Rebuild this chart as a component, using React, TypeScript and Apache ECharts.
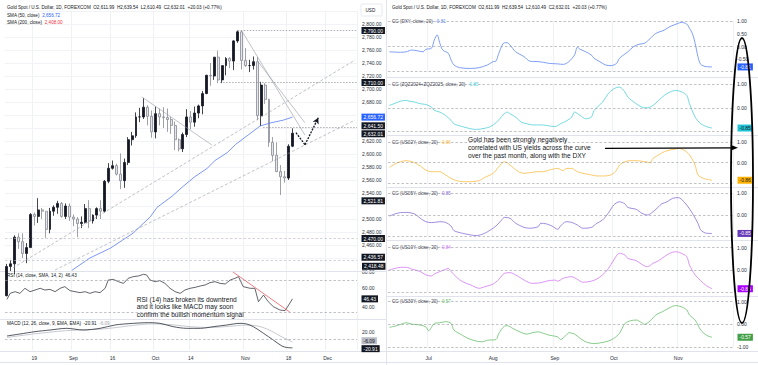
import React, { useEffect, useRef } from 'react';
import * as echarts from 'echarts';

const FONT = '"Liberation Sans", Arial, sans-serif';
const TXT = '#131722';

// ---------- Left chart: XAUUSD daily candles (Aug 8 – Nov 19, 2024) ----------
const OPEN = [
  2382, 2427, 2431, 2472, 2465, 2447, 2456, 2507, 2504, 2514,
  2512, 2484, 2512, 2518, 2524, 2504, 2520, 2503, 2500, 2493,
  2495, 2516, 2497, 2506, 2516, 2512, 2558, 2578, 2582, 2569,
  2559, 2587, 2622, 2628, 2657, 2657, 2672, 2658, 2634, 2662,
  2657, 2656, 2653, 2644, 2622, 2608, 2630, 2657, 2649, 2663,
  2674, 2693, 2721, 2720, 2749, 2714, 2736, 2747, 2743, 2774,
  2788, 2744, 2736, 2736, 2742, 2659, 2706, 2684, 2618, 2598,
  2573, 2565, 2563, 2611.99,
];
const HIGH = [
  2431, 2437, 2475, 2478, 2478, 2463, 2509, 2510, 2532, 2517,
  2512, 2517, 2521, 2528, 2526, 2524, 2524, 2507, 2503, 2504,
  2523, 2529, 2507, 2518, 2529, 2560, 2586, 2590, 2585, 2601,
  2593, 2626, 2634, 2664, 2671, 2686, 2675, 2667, 2673, 2670,
  2672, 2670, 2657, 2650, 2624, 2633, 2669, 2666, 2673, 2676,
  2697, 2722, 2740, 2749, 2759, 2736, 2749, 2749, 2775, 2790,
  2790, 2763, 2745, 2750, 2749, 2711, 2709, 2685, 2626, 2618,
  2583, 2574, 2615, 2639.54,
];
const LOW = [
  2381, 2420, 2415, 2454, 2440, 2432, 2456, 2490, 2494, 2500,
  2471, 2478, 2505, 2508, 2502, 2500, 2497, 2489, 2472, 2486,
  2493, 2486, 2493, 2500, 2500, 2510, 2555, 2576, 2567, 2546,
  2548, 2583, 2613, 2625, 2649, 2654, 2644, 2625, 2624, 2644,
  2640, 2634, 2631, 2606, 2604, 2603, 2626, 2638, 2642, 2655,
  2661, 2692, 2705, 2714, 2709, 2709, 2721, 2732, 2729, 2771,
  2730, 2734, 2726, 2730, 2652, 2643, 2677, 2611, 2589, 2572,
  2537, 2556, 2560, 2610.49,
];
const CLOSE = [
  2427, 2431, 2472, 2465, 2447, 2456, 2507, 2504, 2514, 2512,
  2484, 2512, 2518, 2524, 2504, 2520, 2503, 2500, 2493, 2495,
  2516, 2497, 2506, 2516, 2512, 2558, 2578, 2582, 2569, 2559,
  2587, 2622, 2628, 2657, 2657, 2672, 2658, 2634, 2662, 2657,
  2656, 2653, 2644, 2622, 2608, 2630, 2657, 2649, 2663, 2674,
  2693, 2721, 2720, 2749, 2714, 2736, 2747, 2743, 2774, 2788,
  2744, 2736, 2736, 2742, 2659, 2706, 2684, 2618, 2598, 2573,
  2565, 2563, 2612, 2632.01,
];

// SMA(50): [bar index, price]
const SMA50 = [
  [16.6, 2421], [21.2, 2440], [26.4, 2455], [32.2, 2478], [36.6, 2503], [38.4, 2518],
  [42.2, 2535], [45, 2550], [48, 2565], [51.2, 2578], [53.2, 2590], [56.3, 2602],
  [58.5, 2615], [61.4, 2628], [64.7, 2643], [67.5, 2648], [70.6, 2652], [73, 2656.72],
];

// Trend lines [x1, price1, x2, price2]
const TREND_DASHED = [
  [1.5, 2424.6, 89, 2744.6],
  [12.3, 2421.5, 89, 2652.3],
];
const TREND_SOLID = [
  [34.5, 2687.7, 52.4, 2613.8],
  [60.4, 2786, 76.2, 2629],
  [64.2, 2742, 76.2, 2648],
];
// Horizontal rays [start bar, price]
const RAYS_DARK = [[59, 2790], [54.5, 2710], [65.5, 2641.5]];
const RAYS_LIGHT = [[-0.5, 2470], [-0.5, 2436.57]];
const SMA_TAG = 2656.72;
const LAST_PRICE = 2632.01;
const OTHER_TAG = 2521.81;
const LOW_TAG = 2418.48;
// Projection zigzag [bar, price]
const PROJECTION = [[73.9, 2632.8], [76.2, 2614.3], [79.6, 2655.8]];

// RSI(14)
const RSI = [
  [0, 45.8], [0.8, 53.3], [2.1, 55.4], [3.3, 53.3], [4.6, 59.6], [5.9, 55.4], [7.2, 57.5],
  [8.5, 59.6], [9.7, 57.5], [11, 58.3], [12.3, 55.4], [13.6, 59.6], [14.8, 61.7], [16.1, 56.7],
  [17.4, 55.4], [18.7, 54.2], [20, 55.4], [21.2, 53.3], [22.5, 55.4], [23.8, 54.2], [25.1, 59.6],
  [25.9, 70], [27.2, 70.8], [28.5, 67.9], [29.8, 65.8], [31, 72.1], [32.3, 74.2], [33.6, 75],
  [34.9, 77.1], [35.7, 76.3], [36.6, 70], [37.9, 67.9], [39.1, 69.2], [40.4, 65.8], [41.7, 59.6],
  [43, 55.4], [44.3, 53.3], [45.5, 57.5], [46.8, 59.6], [48.1, 60.8], [49.4, 62.5], [50.7, 63.8],
  [51.9, 66.7], [53.2, 67.9], [54.5, 65.8], [55.8, 65], [57.1, 70], [58.3, 72.1], [59.2, 74.2],
  [60.4, 61.7], [62.2, 59.6], [63.4, 59.6], [64.3, 42.9], [65.6, 51.2], [66.8, 42.9], [68.1, 36.7],
  [69.8, 32.5], [71.1, 31.7], [72.2, 40], [73, 46.43],
];
const RSI_TREND = [57.8, 80, 72.3, 30];
const RSI_LAST = 46.43;

// MACD(12,26,9)
const MACD = [
  [0, 8.75], [3.3, 13.75], [7.2, 19.6], [11, 23.75], [15.3, 27.9], [19.5, 23.75], [23.8, 27.9],
  [27.6, 36.25], [32.3, 40.4], [36.2, 42.1], [39.1, 40.4], [42.5, 32.1], [46, 27.9], [49.4, 27.9],
  [52.8, 32.1], [56.2, 36.25], [59.6, 40.4], [61.3, 38.75], [63, 32.1], [65.6, 15.4], [68.1, -1.25],
  [70.3, -16.25], [71.5, -20], [73, -20.91],
];
const SIGNAL = [
  [0, 5], [7, 14], [15, 22], [24, 26], [28, 30], [32, 35], [37, 39], [42, 37], [47, 32],
  [52, 30], [57, 33], [61, 36], [64, 34], [67, 24], [70, 8], [73, -6.09],
];
const MACD_LAST = -20.91;
const SIGNAL_LAST = -6.09;

const LEFT_TICKS: Record<string, string> = {
  '2024-08-19': '19', '2024-09-02': 'Sep', '2024-09-16': '16', '2024-10-01': 'Oct',
  '2024-10-14': '14', '2024-11-01': 'Nov', '2024-11-18': '18', '2024-12-02': 'Dec',
};
const RIGHT_TICKS: Record<string, string> = {
  '2024-07-01': 'Jul', '2024-08-01': 'Aug', '2024-09-02': 'Sep', '2024-10-01': 'Oct', '2024-11-01': 'Nov',
};

// ---------- Right chart: 20-day correlation of gold with ... [bar index, value] ----------
const CC_DXY = [
  [0, -0.21], [4, -0.23], [6, -0.21], [8, -0.14], [10, -0.17], [12, -0.21], [13, -0.11], [15, -0.07],
  [16, 0.26], [17, 0.46], [18, 0.13], [19, -0.14], [21, -0.27], [22, -0.54], [23, -0.73], [25, -0.84],
  [29, -0.87], [32, -0.84], [35, -0.73], [37, -0.6], [38, -0.58], [39, -0.27], [41, 0.15], [42, 0.15],
  [43, 0.06], [45, -0.21], [48, -0.4], [50, -0.58], [53, -0.6], [55, -0.63], [57, -0.67], [60, -0.69],
  [62, -0.71], [64, -0.6], [66, -0.34], [67, -0.03], [68, -0.11], [70, -0.21], [72, -0.34], [73, -0.47],
  [75, -0.6], [77, -0.73], [79, -0.76], [81, -0.67], [82, -0.47], [85, -0.21], [87, -0.01], [89, 0.09],
  [91, 0.13], [93, 0.32], [95, 0.52], [98, 0.65], [100, 0.79], [103, 0.92], [104, 0.96], [106, 0.89],
  [107, 0.72], [108, 0.52], [109, 0.13], [110, -0.4], [111, -0.71], [113, -0.8], [115, -0.81],
];
const CC_ZQ = [
  [0, 0.1], [2, 0.19], [4, 0.28], [6, 0.31], [7, 0.28], [9, 0.24], [11, 0.17], [13, 0.14], [15, 0.03],
  [16, -0.11], [18, -0.18], [20, -0.32], [22, -0.53], [23, -0.67], [26, -0.79], [29, -0.88], [31, -0.91],
  [34, -0.86], [36, -0.79], [38, -0.63], [40, -0.37], [41, -0.25], [42, -0.18], [43, -0.25], [45, -0.39],
  [47, -0.6], [49, -0.67], [51, -0.72], [54, -0.72], [56, -0.74], [59, -0.79], [61, -0.67], [63, -0.56],
  [65, -0.39], [66, -0.18], [68, -0.32], [70, -0.46], [72, -0.39], [73, -0.11], [76, 0.24], [78, 0.59],
  [80, 0.8], [82, 0.87], [84, 0.66], [85, 0.45], [88, 0.17], [90, 0.03], [92, 0.0], [94, 0.1], [96, 0.31],
  [98, 0.52], [100, 0.66], [102, 0.73], [104, 0.68], [106, 0.52], [107, 0.17], [109, -0.39], [111, -0.67],
  [113, -0.79], [115, -0.85],
];
const CC_US02Y = [
  [0, -0.23], [2, -0.06], [4, 0.05], [6, 0.1], [7, 0.08], [9, 0.0], [11, -0.16], [13, -0.36], [15, -0.44],
  [16, -0.44], [18, -0.44], [20, -0.6], [22, -0.77], [24, -0.88], [26, -0.93], [29, -0.93], [32, -0.88],
  [34, -0.72], [37, -0.52], [39, -0.2], [41, 0.05], [42, 0.0], [44, -0.23], [46, -0.44], [48, -0.52],
  [50, -0.49], [53, -0.44], [55, -0.44], [57, -0.36], [60, -0.28], [62, -0.39], [63, -0.28], [65, -0.28],
  [67, -0.44], [69, -0.52], [72, -0.6], [74, -0.65], [76, -0.65], [79, -0.6], [81, -0.36], [82, -0.12],
  [84, 0.05], [86, 0.1], [88, 0.1], [91, 0.05], [93, 0.0], [94, 0.21], [96, 0.38], [98, 0.54], [100, 0.62],
  [102, 0.67], [103, 0.7], [105, 0.62], [107, 0.38], [109, -0.12], [110, -0.6], [112, -0.77], [115, -0.86],
];
const CC_US05Y = [
  [0, -0.05], [2, 0.05], [4, 0.11], [6, 0.12], [7, 0.11], [9, 0.05], [11, -0.15], [13, -0.31], [15, -0.35],
  [16, -0.34], [18, -0.31], [20, -0.34], [22, -0.51], [23, -0.72], [26, -0.84], [29, -0.92], [31, -0.95],
  [34, -0.84], [36, -0.69], [38, -0.51], [40, -0.23], [41, -0.11], [43, -0.15], [45, -0.38], [48, -0.57],
  [50, -0.61], [53, -0.54], [54, -0.38], [56, -0.41], [58, -0.51], [60, -0.66], [61, -0.51], [63, -0.31],
  [65, -0.34], [67, -0.46], [69, -0.61], [72, -0.57], [74, -0.38], [76, -0.23], [78, 0.08], [80, 0.46],
  [82, 0.61], [84, 0.51], [85, 0.35], [88, 0.26], [90, 0.08], [92, 0.0], [94, 0.15], [96, 0.38], [97, 0.51],
  [99, 0.61], [101, 0.77], [103, 0.8], [104, 0.74], [106, 0.46], [108, 0.08], [110, -0.38], [111, -0.69],
  [113, -0.84], [115, -0.85],
];
const CC_US10Y = [
  [0, 0.0], [2, 0.07], [4, 0.12], [6, 0.12], [8, 0.04], [11, -0.07], [13, -0.22], [15, -0.27], [16, -0.18],
  [18, -0.07], [20, 0.03], [21, 0.07], [22, -0.07], [24, -0.33], [26, -0.52], [29, -0.67], [32, -0.82],
  [34, -0.75], [37, -0.63], [39, -0.42], [41, -0.15], [43, -0.12], [45, -0.22], [47, -0.37], [49, -0.52],
  [51, -0.6], [54, -0.57], [56, -0.5], [59, -0.45], [60, -0.5], [62, -0.37], [65, -0.3], [67, -0.42],
  [69, -0.55], [72, -0.5], [74, -0.4], [76, -0.22], [78, 0.05], [80, 0.45], [82, 0.75], [84, 0.67],
  [85, 0.52], [88, 0.42], [90, 0.25], [92, 0.15], [94, 0.3], [96, 0.42], [98, 0.6], [100, 0.75], [102, 0.82],
  [104, 0.75], [106, 0.6], [107, 0.22], [109, -0.22], [111, -0.48], [113, -0.7], [115, -0.84],
];
const CC_US30Y = [
  [0, -0.13], [2, -0.08], [4, 0.0], [6, 0.07], [8, 0.01], [11, -0.03], [13, -0.11], [14, -0.28], [16, 0.04],
  [18, 0.07], [20, 0.12], [22, 0.04], [23, -0.25], [26, -0.48], [28, -0.62], [31, -0.74], [33, -0.77],
  [35, -0.7], [38, -0.67], [39, -0.4], [41, -0.08], [42, -0.06], [44, -0.18], [47, -0.36], [49, -0.43],
  [51, -0.37], [53, -0.33], [55, -0.4], [57, -0.48], [60, -0.55], [61, -0.67], [63, -0.48], [64, -0.37],
  [66, -0.43], [68, -0.62], [70, -0.77], [73, -0.85], [75, -0.82], [78, -0.74], [80, -0.62], [82, -0.4],
  [84, 0.04], [86, 0.16], [88, 0.19], [90, 0.07], [91, 0.0], [93, 0.16], [95, 0.41], [98, 0.6], [100, 0.74],
  [102, 0.83], [104, 0.78], [106, 0.64], [107, 0.41], [109, 0.19], [111, -0.25], [113, -0.48], [115, -0.57],
];

const CC_TITLES = [
  'CC (DXY, close, 20)', 'CC (ZQZ2024+ZQZ2025, close, 20)', 'CC (US02Y, close, 20)',
  'CC (US05Y, close, 20)', 'CC (US10Y, close, 20)', 'CC (US30Y, close, 20)',
];
const CC_LAST = [-0.81, -0.85, -0.86, -0.85, -0.84, -0.57];
const CC_DATA = [CC_DXY, CC_ZQ, CC_US02Y, CC_US05Y, CC_US10Y, CC_US30Y];

// styles
const CC_LINE = ['#5d86f2', '#52d0d8', '#f9bd45', '#8a70d8', '#d27af5', '#69bf6d'];
const CC_TAG_BG = ['#2962ff', '#22c3d6', '#ffb300', '#673ab7', '#aa00ff', '#43a047'];
const CC_TAG_FG = ['#ffffff', '#131722', '#131722', '#ffffff', '#ffffff', '#ffffff'];
const PANEL_TOP = [21.3, 84, 142.3, 193.3, 247.7, 301.7];
const PANEL_H = [50.4, 47.6, 40.8, 43.4, 44.6, 45.3];

function weekdays(start: string, n: number): string[] {
  const out: string[] = [];
  const d = new Date(start + 'T00:00:00Z');
  while (out.length < n) {
    const wd = d.getUTCDay();
    if (wd !== 0 && wd !== 6) out.push(d.toISOString().slice(0, 10));
    d.setUTCDate(d.getUTCDate() + 1);
  }
  return out;
}

const fmt = (v: number) =>
  v.toLocaleString('en-US', { minimumFractionDigits: 2, maximumFractionDigits: 2 });

const tagLabel = (text: string, bg: string, fg = '#ffffff', dy = 0) => ({
  show: true,
  position: 'end',
  formatter: text,
  backgroundColor: bg,
  color: fg,
  fontSize: 5,
  lineHeight: 5,
  fontFamily: FONT,
  padding: [1.2, 2, 0.8, 2],
  distance: 4.5,
  offset: [0, dy],
});

const INVISIBLE = { color: 'rgba(0,0,0,0)', width: 0.1, type: 'solid' };

function buildOption() {
  const leftDates = weekdays('2024-08-08', 90);
  const rightDates = weekdays('2024-06-11', 123);
  const candles = OPEN.map((o, i) => [o, CLOSE[i], LOW[i], HIGH[i]]);

  const labelStyle = { fontSize: 5, color: '#2a2e39', fontFamily: FONT };
  const vGrid = (ticks: Record<string, string>) => ({
    show: true,
    interval: (_i: number, v: string) => ticks[v] != null,
    lineStyle: { color: '#f0f1f5', width: 1 },
  });

  const grids: any[] = [
    { left: 5, top: 11, width: 352, height: 260 },
    { left: 5, top: 272, width: 352, height: 48 },
    { left: 5, top: 320, width: 352, height: 30 },
  ];
  PANEL_TOP.forEach((t, i) => grids.push({ left: 388, top: t, width: 345, height: PANEL_H[i] }));

  const xAxes: any[] = [];
  for (let g = 0; g < 3; g++) {
    xAxes.push({
      type: 'category', gridIndex: g, data: leftDates, boundaryGap: true,
      axisLine: { show: false }, axisTick: { show: false },
      axisLabel: g === 2
        ? { show: true, ...labelStyle, margin: 5.5, interval: (_i: number, v: string) => LEFT_TICKS[v] != null, formatter: (v: string) => LEFT_TICKS[v] || '' }
        : { show: false },
      splitLine: vGrid(LEFT_TICKS),
    });
    xAxes.push({ type: 'value', gridIndex: g, min: -0.5, max: 89.5, show: false });
  }
  for (let p = 0; p < 6; p++) {
    xAxes.push({
      type: 'category', gridIndex: 3 + p, data: rightDates, boundaryGap: true,
      axisLine: { show: false }, axisTick: { show: false },
      axisLabel: p === 5
        ? { show: true, ...labelStyle, margin: 8.5, interval: (_i: number, v: string) => RIGHT_TICKS[v] != null, formatter: (v: string) => RIGHT_TICKS[v] || '' }
        : { show: false },
      splitLine: vGrid(RIGHT_TICKS),
    });
  }

  // price labels hidden where the reference's value tags cover them
  const HIDDEN_PRICE = [2420, 2440, 2520, 2640, 2660, 2820];
  const yAxes: any[] = [
    {
      type: 'value', gridIndex: 0, position: 'right', min: 2420, max: 2820, interval: 20,
      axisLine: { show: false }, axisTick: { show: false },
      axisLabel: { ...labelStyle, margin: 5, formatter: (v: number) => (HIDDEN_PRICE.includes(v) ? '' : fmt(v)) },
      splitLine: { show: true, lineStyle: { color: '#f2f3f6', width: 1 } },
    },
    {
      type: 'value', gridIndex: 1, position: 'right', min: 20, max: 80, interval: 20,
      axisLine: { show: false }, axisTick: { show: false },
      axisLabel: {
        ...labelStyle, margin: 5,
        formatter: (v: number) => (v === 20 ? '' : v === 40 ? '{d|40.00}' : fmt(v)),
        rich: { d: { ...labelStyle, padding: [5, 0, 0, 0] } },
      },
      splitLine: { show: false },
    },
    {
      type: 'value', gridIndex: 2, position: 'right', min: -26.25, max: 48.75,
      axisLine: { show: false }, axisTick: { show: false },
      axisLabel: { show: false }, splitLine: { show: false },
    },
  ];
  for (let p = 0; p < 6; p++) {
    yAxes.push({
      type: 'value', gridIndex: 3 + p, position: 'right', min: -1, max: 1, interval: p === 0 ? 0.5 : 1,
      axisLine: { show: false }, axisTick: { show: false },
      axisLabel: {
        ...labelStyle, margin: 4,
        formatter: (v: number) => (v === -1 && CC_LAST[p] < -0.7 ? '' : v.toFixed(2)),
      },
      splitLine: { show: false },
    });
  }

  const greyDash = { color: '#9598a1', width: 0.6, type: [2.5, 2] };
  const trendDash = { color: '#9598a1', width: 0.6, type: [3, 2] };
  const trendSolid = { color: '#9598a1', width: 0.6, type: 'solid' };
  const rayDark = { color: '#787b86', width: 0.6, type: [1.5, 1.5] };
  const rayLight = { color: '#b2b5be', width: 0.6, type: [2.5, 2] };
  const arrowStyle = { color: '#131722', width: 1.3, type: [2, 1.2] };

  const rayShift: Record<number, number> = { 2641.5: -1.2, 2436.57: -3 };
  const mainMarks: any[] = [];
  TREND_DASHED.forEach(([a, b, c, d]) => mainMarks.push([{ coord: [a, b], lineStyle: trendDash }, { coord: [c, d] }]));
  TREND_SOLID.forEach(([a, b, c, d]) => mainMarks.push([{ coord: [a, b], lineStyle: trendSolid }, { coord: [c, d] }]));
  RAYS_DARK.forEach(([x, p]) =>
    mainMarks.push([{ coord: [x, p], lineStyle: rayDark, label: tagLabel(fmt(p), TXT, '#fff', rayShift[p] || 0) }, { coord: [89.5, p] }]));
  RAYS_LIGHT.forEach(([x, p]) =>
    mainMarks.push([{ coord: [x, p], lineStyle: rayLight, label: tagLabel(fmt(p), TXT, '#fff', rayShift[p] || 0) }, { coord: [89.5, p] }]));
  mainMarks.push({ yAxis: SMA_TAG, lineStyle: INVISIBLE, label: tagLabel(fmt(SMA_TAG), '#2962ff') });
  mainMarks.push({ yAxis: LAST_PRICE, lineStyle: INVISIBLE, label: tagLabel(fmt(LAST_PRICE), TXT, '#fff', 0.6) });
  mainMarks.push({ yAxis: OTHER_TAG, lineStyle: INVISIBLE, label: tagLabel(fmt(OTHER_TAG), TXT, '#fff', -4) });
  mainMarks.push([{ coord: PROJECTION[0], lineStyle: arrowStyle }, { coord: PROJECTION[1] }]);
  mainMarks.push([
    { coord: PROJECTION[1], lineStyle: arrowStyle, symbol: 'none' },
    { coord: PROJECTION[2], symbol: 'arrow', symbolSize: [5, 6] },
  ]);

  const series: any[] = [
    {
      type: 'candlestick', xAxisIndex: 0, yAxisIndex: 0, data: candles, barWidth: '62%', clip: true,
      itemStyle: { color: '#131722', color0: '#e4e6eb', borderColor: '#131722', borderColor0: '#868993', borderWidth: 0.8 },
      silent: true,
    },
    {
      type: 'line', xAxisIndex: 1, yAxisIndex: 0, data: SMA50, symbol: 'none', silent: true,
      lineStyle: { color: '#5b7cf7', width: 0.8 }, z: 3,
      markLine: { silent: true, symbol: ['none', 'none'], animation: false, label: { show: false }, data: mainMarks },
    },
    {
      type: 'line', xAxisIndex: 3, yAxisIndex: 1, data: RSI, symbol: 'none', silent: true,
      lineStyle: { color: '#3b3e47', width: 0.8 },
      markLine: {
        silent: true, symbol: ['none', 'none'], animation: false, label: { show: false },
        data: [
          { yAxis: 70, lineStyle: greyDash },
          { yAxis: 30, lineStyle: greyDash },
          [{ coord: [RSI_TREND[0], RSI_TREND[1]], lineStyle: { color: '#f05a63', width: 0.8, type: 'solid' } },
            { coord: [RSI_TREND[2], RSI_TREND[3]] }],
          { yAxis: RSI_LAST, lineStyle: INVISIBLE, label: tagLabel(fmt(RSI_LAST), TXT) },
        ],
      },
    },
    {
      type: 'line', xAxisIndex: 5, yAxisIndex: 2, data: SIGNAL, symbol: 'none', silent: true, smooth: 0.3,
      lineStyle: { color: '#b8bbc4', width: 0.8 },
      markLine: {
        silent: true, symbol: ['none', 'none'], animation: false, label: { show: false },
        data: [
          { yAxis: 0, lineStyle: greyDash },
          { yAxis: 20, lineStyle: INVISIBLE, label: { show: true, position: 'end', formatter: '20.00', ...labelStyle, distance: 5 } },
          { yAxis: SIGNAL_LAST, lineStyle: INVISIBLE, label: tagLabel(fmt(SIGNAL_LAST), '#b8bbc4', TXT, -1.2) },
        ],
      },
    },
    {
      type: 'line', xAxisIndex: 5, yAxisIndex: 2, data: MACD, symbol: 'none', silent: true, smooth: 0.3,
      lineStyle: { color: '#2a2e39', width: 0.8 },
      markLine: {
        silent: true, symbol: ['none', 'none'], animation: false, label: { show: false },
        data: [{ yAxis: MACD_LAST, lineStyle: INVISIBLE, label: tagLabel(fmt(MACD_LAST), TXT, '#fff', 0.8) }],
      },
    },
  ];

  CC_DATA.forEach((data, p) => {
    series.push({
      type: 'line', xAxisIndex: 6 + p, yAxisIndex: 3 + p, data, symbol: 'none', silent: true, smooth: 0.3,
      lineStyle: { color: CC_LINE[p], width: 0.8 },
      markLine: {
        silent: true, symbol: ['none', 'none'], animation: false, label: { show: false },
        data: [
          { yAxis: 1, lineStyle: greyDash },
          { yAxis: 0, lineStyle: greyDash },
          { yAxis: -1, lineStyle: greyDash },
          { yAxis: CC_LAST[p], lineStyle: INVISIBLE, label: tagLabel(CC_LAST[p].toFixed(2), CC_TAG_BG[p], CC_TAG_FG[p]) },
        ],
      },
    });
  });

  const small = `4.6px ${FONT}`;
  const sep = (x1: number, y1: number, x2: number, y2: number) => ({
    type: 'line', z: 1, silent: true, shape: { x1, y1, x2, y2 }, style: { stroke: '#e0e3eb', lineWidth: 1 },
  });
  const txt = (x: number, y: number, text: string, rich?: any) => ({
    type: 'text', x, y, z: 50, silent: true,
    style: { text, font: small, fill: TXT, verticalAlign: 'middle', rich },
  });
  const HEADER = 'Gold Spot / U.S. Dollar, 1D, FOREXCOM  O2,611.99  H2,639.54  L2,610.49  C2,632.01  +20.03 (+0.77%)';

  const graphic: any[] = [
    sep(386.5, 0, 386.5, 365),
    sep(0, 271.5, 386, 271.5), sep(0, 319.5, 386, 319.5), sep(0, 351.5, 386, 351.5), sep(0, 362.5, 758, 362.5),
    sep(386, 77.5, 758, 77.5), sep(386, 135.5, 758, 135.5), sep(386, 187.5, 758, 187.5),
    sep(386, 240.5, 758, 240.5), sep(386, 296.5, 758, 296.5), sep(386, 351.5, 758, 351.5),
    txt(7, 7, HEADER),
    txt(7, 15, '{a|SMA (50, close)}  {b|2,656.72}', { a: { fill: TXT, font: small }, b: { fill: '#2962ff', font: small } }),
    txt(7, 22, '{a|SMA (200, close)}  {b|2,408.00}', { a: { fill: TXT, font: small }, b: { fill: '#f23645', font: small } }),
    txt(7, 275.5, 'RSI (14, close, SMA, 14, 2)  46.43'),
    txt(7, 323.5, '{a|MACD (12, 26, close, 9, EMA, EMA)}  {a|-20.91}  {b|-6.09}', { a: { fill: TXT, font: small }, b: { fill: '#a3a6af', font: small } }),
    {
      type: 'rect', z: 50, silent: true, shape: { x: 361, y: 4, width: 21, height: 12, r: 1 },
      style: { fill: '#ffffff', stroke: '#e0e3eb', lineWidth: 0.8 },
    },
    txt(365.5, 10, 'USD'),
    {
      type: 'text', x: 362, y: 266.3, z: 55, silent: true,
      style: {
        text: fmt(LOW_TAG), font: `5px ${FONT}`, fill: '#ffffff', backgroundColor: TXT,
        padding: [1.2, 2, 0.8, 2], verticalAlign: 'middle', lineHeight: 5,
      },
    },
    txt(392, 7, HEADER),
    {
      type: 'text', x: 136.7, y: 295.6, z: 60, silent: true,
      style: {
        text: 'RSI (14) has broken its downtrend\nand it looks like MACD may soon\nconfirm the bullish momentum signal',
        font: `6.6px ${FONT}`, fill: TXT, lineHeight: 7.6, verticalAlign: 'top',
      },
    },
    {
      type: 'text', x: 468, y: 135.2, z: 60, silent: true,
      style: {
        text: 'Gold has been strongly negatively\ncorrelated with US yields across the curve\nover the past month, along with the DXY',
        font: `6.6px ${FONT}`, fill: TXT, lineHeight: 8.2, verticalAlign: 'top',
      },
    },
    {
      type: 'line', z: 60, silent: true, shape: { x1: 605, y1: 148.3, x2: 732, y2: 147.8 },
      style: { stroke: '#000000', lineWidth: 1.3 },
    },
    {
      type: 'polygon', z: 60, silent: true, shape: { points: [[738, 147.7], [731, 145], [731, 150.5]] },
      style: { fill: '#000000' },
    },
    {
      type: 'ellipse', z: 70, silent: true, shape: { cx: 742, cy: 180.5, rx: 11, ry: 142.5 },
      style: { fill: 'transparent', stroke: '#000000', lineWidth: 1.8 },
    },
  ];

  CC_TITLES.forEach((t, p) => {
    graphic.push(txt(392, PANEL_TOP[p], `{a|${t}}  {b|${CC_LAST[p].toFixed(2)}}`, {
      a: { fill: '#434651', font: small }, b: { fill: CC_LINE[p], font: small },
    }));
  });

  return {
    animation: false,
    backgroundColor: '#ffffff',
    textStyle: { fontFamily: FONT },
    grid: grids,
    xAxis: xAxes,
    yAxis: yAxes,
    series,
    graphic: { elements: graphic },
  };
}

export default function App() {
  const ref = useRef<HTMLDivElement>(null);
  useEffect(() => {
    if (!ref.current) return;
    const chart = echarts.init(ref.current, null, { renderer: 'svg' });
    chart.setOption(buildOption() as any);
    return () => chart.dispose();
  }, []);
  return (
    <div
      ref={ref}
      style={{ position: 'absolute', left: 0, top: 0, width: 758, height: 365, background: '#ffffff' }}
    />
  );
}
